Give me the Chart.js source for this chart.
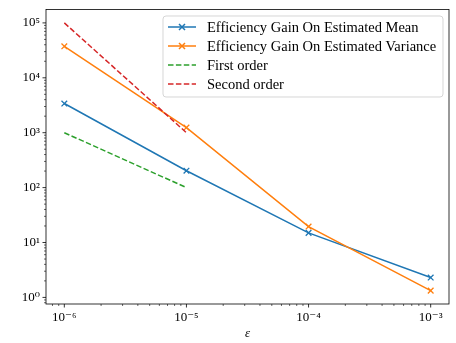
<!DOCTYPE html>
<html>
<head>
<meta charset="utf-8">
<script src="https://cdn.jsdelivr.net/npm/chart.js@4"></script>
<style>
  html, body { margin: 0; padding: 0; background: #fff; }
  #wrap { width: 456px; height: 343px; }
</style>
</head>
<body>
<div id="wrap"><canvas id="chart"></canvas></div>
<script>
// values (log-log)
const epsilons = [1e-6, 1e-5, 1e-4, 1e-3];
const gainMean = [3400, 203, 15, 2.3];
const gainVariance = [37500, 1240, 19.5, 1.33];
const refEpsilons = [1e-6, 1e-5];
const firstOrder = [1000, 100];
const secondOrder = [100000, 1000];
const seriesLabels = [
  'Efficiency Gain On Estimated Mean',
  'Efficiency Gain On Estimated Variance',
  'First order',
  'Second order'
];

const FONT = '"Liberation Serif", "DejaVu Serif", serif';
const SUP = { '-': '\u207B', '0': '\u2070', '1': '\u00B9', '2': '\u00B2', '3': '\u00B3',
  '4': '\u2074', '5': '\u2075', '6': '\u2076', '7': '\u2077', '8': '\u2078', '9': '\u2079' };

function toPoints(xs, ys) {
  return xs.map((x, i) => ({ x: x, y: ys[i] }));
}

function logTicks(scale) {
  const ticks = [];
  const lo = Math.floor(Math.log10(scale.min));
  const hi = Math.ceil(Math.log10(scale.max));
  for (let e = lo; e <= hi; e++) {
    for (let m = 1; m <= 9; m++) {
      const v = m * Math.pow(10, e);
      if (v >= scale.min && v <= scale.max) ticks.push({ value: v, major: m === 1 });
    }
  }
  scale.ticks = ticks;
}

function decadeLabel(v) {
  const e = Math.round(Math.log10(v));
  if (Math.abs(v / Math.pow(10, e) - 1) > 1e-6) return '';
  return '10' + String(e).split('').map(c => SUP[c]).join('');
}

// box on all four sides plus matplotlib-style outward ticks
const frame = {
  id: 'frame',
  afterDraw(chart) {
    const ctx = chart.ctx;
    const a = chart.chartArea;
    ctx.save();
    ctx.strokeStyle = '#000';
    ['x', 'y'].forEach(id => {
      const s = chart.scales[id];
      s.ticks.forEach(t => {
        const p = s.getPixelForValue(t.value);
        const len = t.major ? 3.5 : 2;
        ctx.lineWidth = t.major ? 0.8 : 0.6;
        ctx.beginPath();
        if (id === 'x') { ctx.moveTo(p, a.bottom); ctx.lineTo(p, a.bottom + len); }
        else { ctx.moveTo(a.left, p); ctx.lineTo(a.left - len, p); }
        ctx.stroke();
      });
    });
    ctx.lineWidth = 0.8;
    ctx.strokeRect(a.left, a.top, a.right - a.left, a.bottom - a.top);

    // legend in the upper right corner
    const bx = a.right - 286, by = a.top + 6.5, bw = 280, bh = 81;
    ctx.globalAlpha = 0.8;
    ctx.fillStyle = '#fff';
    ctx.strokeStyle = '#cccccc';
    ctx.lineWidth = 1;
    ctx.beginPath();
    ctx.roundRect(bx, by, bw, bh, 3);
    ctx.fill();
    ctx.stroke();
    ctx.globalAlpha = 1;
    chart.data.datasets.forEach((ds, i) => {
      const y = by + 11 + i * 19;
      const x0 = bx + 5, x1 = bx + 33;
      ctx.strokeStyle = ds.borderColor;
      ctx.lineWidth = 1.5;
      ctx.setLineDash(ds.borderDash || []);
      ctx.beginPath();
      ctx.moveTo(x0, y);
      ctx.lineTo(x1, y);
      ctx.stroke();
      ctx.setLineDash([]);
      if (ds.pointRadius > 0) {
        const c = (x0 + x1) / 2, r = 3;
        ctx.beginPath();
        ctx.moveTo(c - r, y - r); ctx.lineTo(c + r, y + r);
        ctx.moveTo(c - r, y + r); ctx.lineTo(c + r, y - r);
        ctx.stroke();
      }
      ctx.fillStyle = '#000';
      ctx.font = '14.5px ' + FONT;
      ctx.textBaseline = 'middle';
      ctx.fillText(ds.label, bx + 44, y + 1);
    });
    ctx.restore();
  }
};

const dash = [5.5, 2.4];

new Chart(document.getElementById('chart'), {
  type: 'line',
  data: {
    datasets: [
      { label: seriesLabels[0], data: toPoints(epsilons, gainMean), borderColor: '#1f77b4',
        pointStyle: 'crossRot', pointRadius: 4, pointBorderWidth: 1.3, order: 4 },
      { label: seriesLabels[1], data: toPoints(epsilons, gainVariance), borderColor: '#ff7f0e',
        pointStyle: 'crossRot', pointRadius: 4, pointBorderWidth: 1.3, order: 3 },
      { label: seriesLabels[2], data: toPoints(refEpsilons, firstOrder), borderColor: '#2ca02c',
        borderDash: dash, pointRadius: 0, order: 2 },
      { label: seriesLabels[3], data: toPoints(refEpsilons, secondOrder), borderColor: '#d62728',
        borderDash: dash, pointRadius: 0, order: 1 }
    ]
  },
  options: {
    responsive: true,
    maintainAspectRatio: false,
    animation: false,
    devicePixelRatio: 1,
    layout: { padding: { left: 0, right: 7, top: 9.5, bottom: 0 } },
    elements: {
      line: { borderWidth: 1.5, tension: 0, fill: false },
      point: { hoverRadius: 4 }
    },
    plugins: {
      legend: { display: false },
      tooltip: { enabled: false }
    },
    scales: {
      x: {
        type: 'logarithmic',
        min: Math.pow(10, -6.15),
        max: Math.pow(10, -2.85),
        afterBuildTicks: logTicks,
        afterFit: s => { s.height = 39; s.paddingLeft = 0; s.paddingRight = 0; },
        border: { display: false },
        grid: { display: false, drawTicks: false },
        ticks: {
          autoSkip: false, maxRotation: 0, padding: 6, color: '#000',
          font: { family: FONT, size: 13 },
          callback: v => decadeLabel(v)
        },
        title: {
          display: true, text: '\u03B5', color: '#000', padding: { top: 0, bottom: 2 },
          font: { family: FONT, size: 13, style: 'italic' }
        }
      },
      y: {
        type: 'logarithmic',
        min: Math.pow(10, -0.12),
        max: Math.pow(10, 5.244),
        afterBuildTicks: logTicks,
        afterFit: s => { s.width = 46; s.paddingTop = 0; s.paddingBottom = 0; },
        border: { display: false },
        grid: { display: false, drawTicks: false },
        ticks: {
          autoSkip: false, padding: 6, color: '#000',
          font: { family: FONT, size: 13 },
          callback: v => decadeLabel(v)
        }
      }
    }
  },
  plugins: [frame]
});
</script>
</body>
</html>
